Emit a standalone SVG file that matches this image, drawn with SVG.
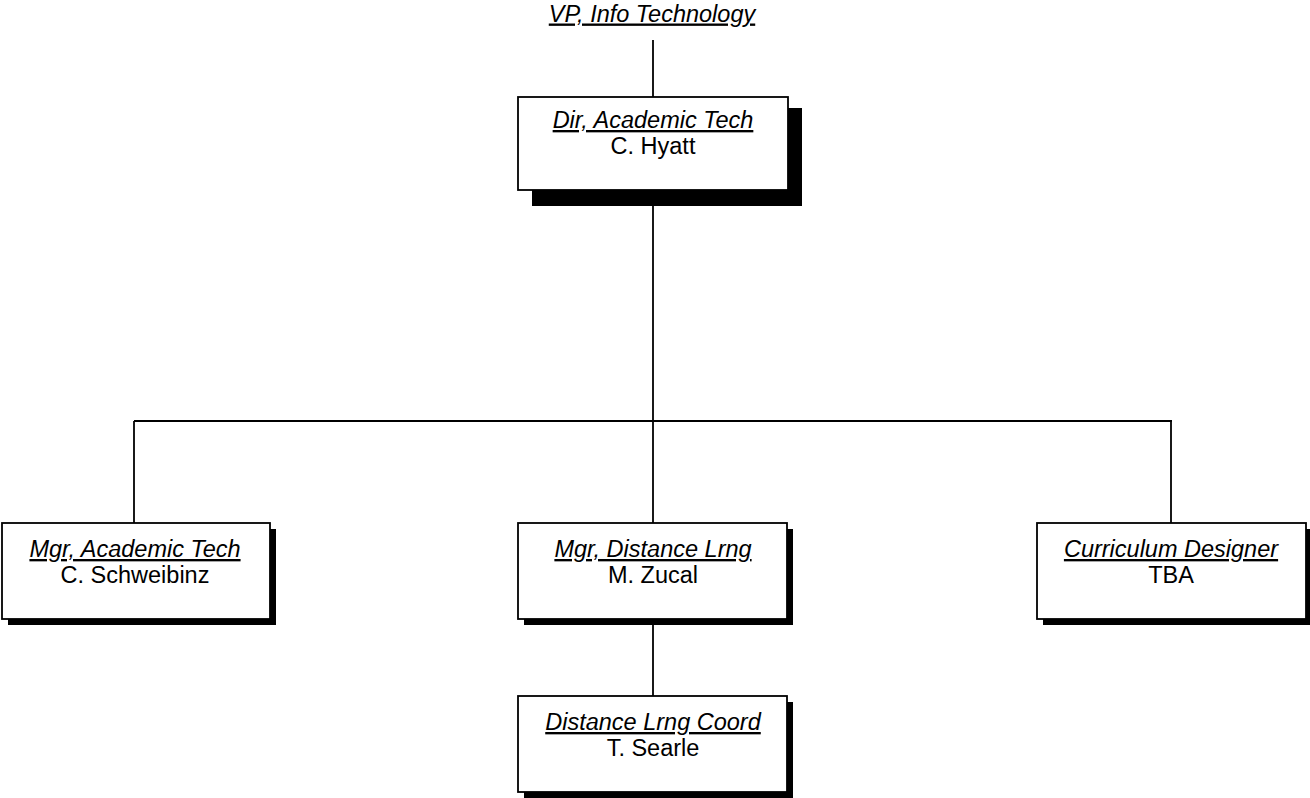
<svg xmlns="http://www.w3.org/2000/svg" width="1310" height="798" viewBox="0 0 1310 798">
<style>
.box{fill:#fff;stroke:#000;stroke-width:1.8}
.sh{fill:#000}
.t{font-family:"Liberation Sans",Arial,sans-serif;font-size:23.5px;text-anchor:middle;fill:#000}
.ti{font-style:italic;text-decoration:underline}
.ln{stroke:#000;stroke-width:1.8;fill:none}
</style>
<rect width="1310" height="798" fill="#fff"/>
<g id="connectors">
<line class="ln" x1="653" y1="40" x2="653" y2="97"/>
<line class="ln" x1="653" y1="190" x2="653" y2="523"/>
<line class="ln" x1="134" y1="421" x2="1172" y2="421"/>
<line class="ln" x1="134" y1="421" x2="134" y2="523"/>
<line class="ln" x1="1171" y1="421" x2="1171" y2="523"/>
<line class="ln" x1="653" y1="619" x2="653" y2="696"/>
</g>
<g id="vp">
<text class="t ti" x="652" y="21.5">VP, Info Technology</text>
</g>
<g id="dir">
<rect class="sh" x="532" y="108" width="270" height="98"/>
<rect class="box" x="518" y="97" width="270" height="93"/>
<text class="t ti" x="653" y="128">Dir, Academic Tech</text>
<text class="t" x="653" y="153.5">C. Hyatt</text>
</g>
<g id="mgr-academic">
<rect class="sh" x="8" y="529" width="268" height="96"/>
<rect class="box" x="2" y="523" width="268" height="96"/>
<text class="t ti" x="135" y="557">Mgr, Academic Tech</text>
<text class="t" x="135" y="583">C. Schweibinz</text>
</g>
<g id="mgr-distance">
<rect class="sh" x="524" y="529" width="269" height="96"/>
<rect class="box" x="518" y="523" width="269" height="96"/>
<text class="t ti" x="653" y="557">Mgr, Distance Lrng</text>
<text class="t" x="653" y="583">M. Zucal</text>
</g>
<g id="curriculum">
<rect class="sh" x="1043" y="529" width="269" height="96"/>
<rect class="box" x="1037" y="523" width="269" height="96"/>
<text class="t ti" x="1171" y="557">Curriculum Designer</text>
<text class="t" x="1171" y="583">TBA</text>
</g>
<g id="coord">
<rect class="sh" x="524" y="702" width="269" height="96"/>
<rect class="box" x="518" y="696" width="269" height="96"/>
<text class="t ti" x="653" y="730">Distance Lrng Coord</text>
<text class="t" x="653" y="756">T. Searle</text>
</g>
</svg>
